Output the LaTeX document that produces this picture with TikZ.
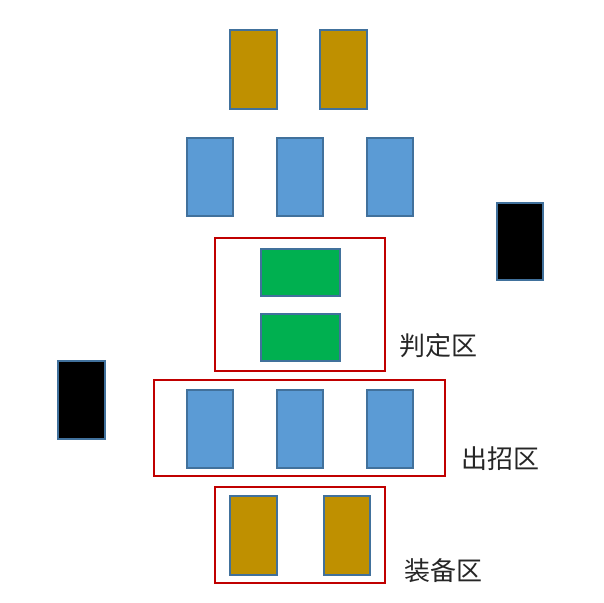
\documentclass[tikz,border=0pt]{standalone}
\usepackage{fontspec}
\newfontfamily\cjk{Noto Sans CJK SC}
\definecolor{gold}{HTML}{BF9000}
\definecolor{sblue}{HTML}{5B9BD5}
\definecolor{sgreen}{HTML}{00B050}
\definecolor{edge}{HTML}{41719C}
\definecolor{zred}{HTML}{C00000}
\tikzset{
  card/.style={draw=edge, line width=1.5pt},
  goldcard/.style={card, fill=gold},
  bluecard/.style={card, fill=sblue},
  greencard/.style={card, fill=sgreen},
  blackcard/.style={card, fill=black},
  zone/.style={draw=zred, line width=1.7pt},
  zlabel/.style={font=\cjk\fontsize{26}{26}\selectfont, text=black!85, inner sep=0pt}
}
\begin{document}
\begin{tikzpicture}[x=1pt,y=-1pt]
\useasboundingbox (0,0) rectangle (604,602);
% top gold
\draw[goldcard] (230,30) rectangle (277,109);
\draw[goldcard] (320,30) rectangle (367,109);
% blue row 1
\draw[bluecard] (187,138) rectangle (233,216);
\draw[bluecard] (277,138) rectangle (323,216);
\draw[bluecard] (367,138) rectangle (413,216);
% black cards
\draw[blackcard] (497,203) rectangle (543,280);
\draw[blackcard] (58,361) rectangle (105,439);
% judge zone
\draw[zone] (215,238) rectangle (385,371);
\draw[greencard] (261,249) rectangle (340,296);
\draw[greencard] (261,314) rectangle (340,361);
\node[zlabel] (l1) at (438,346) {判定区};
% move zone
\draw[zone] (154,380) rectangle (445,476);
\draw[bluecard] (187,390) rectangle (233,468);
\draw[bluecard] (277,390) rectangle (323,468);
\draw[bluecard] (367,390) rectangle (413,468);
\node[zlabel] (l2) at (500,459) {出招区};
% equip zone
\draw[zone] (215,487) rectangle (385,583);
\draw[goldcard] (230,496) rectangle (277,575);
\draw[goldcard] (324,496) rectangle (370,575);
\node[zlabel] (l3) at (443,571) {装备区};
\end{tikzpicture}
\end{document}
